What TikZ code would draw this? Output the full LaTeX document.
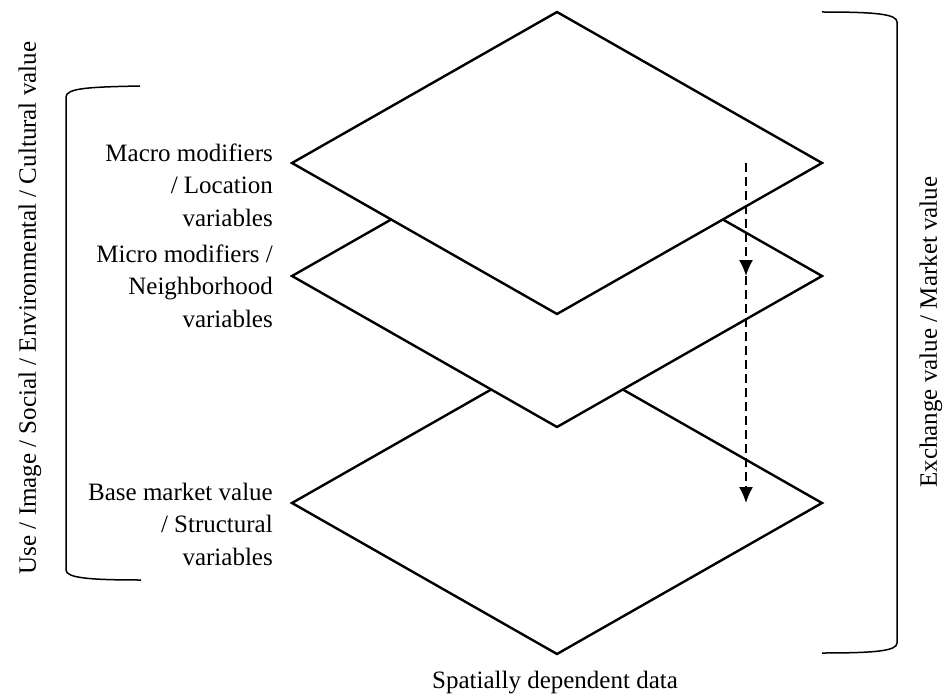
\documentclass[tikz,border=0pt]{standalone}
\usepackage{fontspec}
\setmainfont{Liberation Serif}
\usetikzlibrary{arrows.meta}
\begin{document}
\begin{tikzpicture}[x=1pt,y=-1pt,
  layer/.style={draw=black,line width=2.4pt,fill=white,line join=miter},
  brace/.style={draw=black,line width=1.5pt},
  flow/.style={draw=black,line width=1.4pt,dash pattern=on 9pt off 5pt,-{Latex[length=16pt,width=14pt]}},
  lbl/.style={font=\fontsize{25}{32.5}\selectfont,inner sep=0pt,align=right,anchor=east},
  side/.style={font=\fontsize{25}{30}\selectfont,inner sep=0pt,rotate=90}]
\useasboundingbox (0,0) rectangle (945,695);
% diamond centres
\coordinate (cB) at (557,503);
\coordinate (cM) at (557,276);
\coordinate (cT) at (557,163);
% bottom layer
\draw[layer] ([xshift=-265pt]cB) -- ([yshift=-151pt]cB) -- ([xshift=265pt]cB) -- ([yshift=151pt]cB) -- cycle;
% middle layer
\draw[layer] ([xshift=-265pt]cM) -- ([yshift=-151pt]cM) -- ([xshift=265pt]cM) -- ([yshift=151pt]cM) -- cycle;
% top layer
\draw[layer] ([xshift=-265pt]cT) -- ([yshift=-151pt]cT) -- ([xshift=265pt]cT) -- ([yshift=151pt]cT) -- cycle;
% dashed arrows
\coordinate (a0) at (746,163);
\coordinate (a1) at (746,276);
\coordinate (a2) at (746,503);
\draw[flow] (a0) -- (a1);
\draw[flow] (a1) -- (a2);
% labels
\node[lbl] (macro) at (273,185) {Macro modifiers\\/ Location\\variables};
\node[lbl] (micro) at (273,286) {Micro modifiers /\\Neighborhood\\variables};
\node[lbl] (base) at (273,524) {Base market value\\/ Structural\\variables};
\node[font=\fontsize{25}{30}\selectfont,inner sep=0pt] (spatial) at (555,683) {Spatially dependent data};
% left bracket
\coordinate (lb1) at (140,86);
\coordinate (lb2) at (141,580);
\draw[brace] (lb1) .. controls (90,87) and (66,88) .. (66,97) -- (66,570) .. controls (66,578) and (90,580) .. (lb2);
\node[side] (use) at (30,308) {Use / Image / Social / Environmental / Cultural value};
% right bracket
\coordinate (rb1) at (822,12);
\coordinate (rb2) at (822,653);
\draw[brace] (rb1) .. controls (875,12) and (897,14) .. (897,22) -- (897,643) .. controls (897,651) and (875,653) .. (rb2);
\node[side] (exch) at (931,332) {Exchange value / Market value};
\end{tikzpicture}
\end{document}
